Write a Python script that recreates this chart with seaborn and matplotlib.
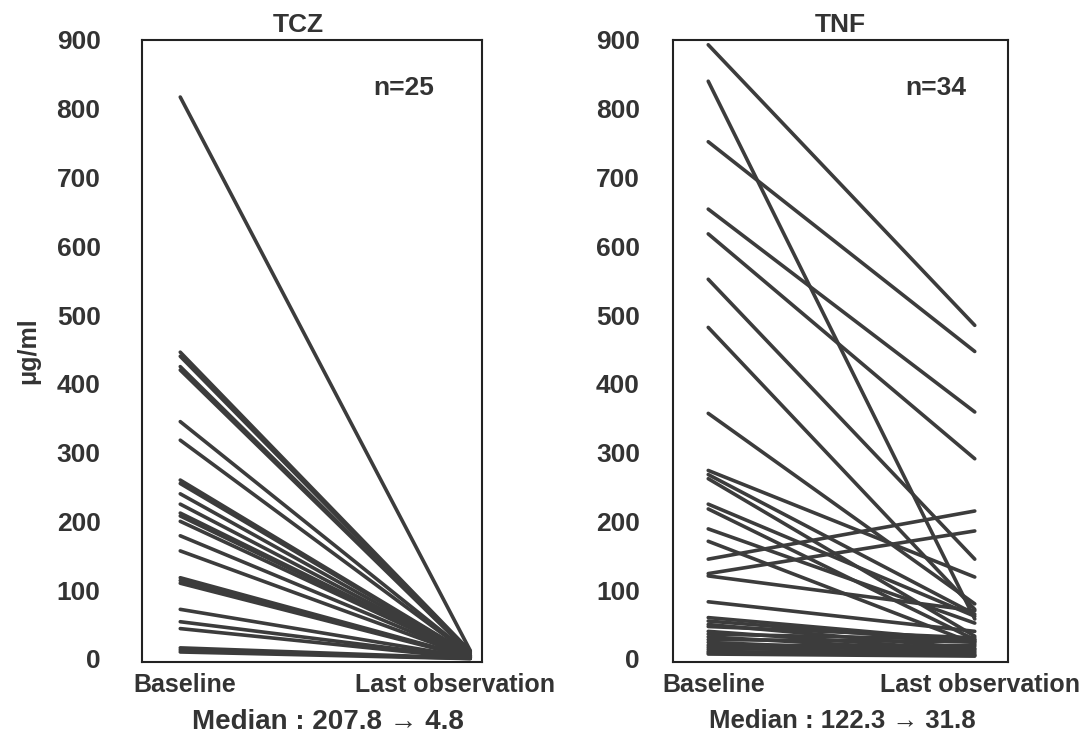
import pandas as pd
import matplotlib
matplotlib.use('Agg')
import matplotlib.pyplot as plt
import seaborn as sns

# TCZ group: baseline -> last observation (ug/ml)
tcz_baseline = [817, 446, 440, 425, 420, 345, 318, 260, 255, 240, 225, 212, 207.8,
                200, 179, 157, 118, 114, 110, 72, 54, 44, 16, 13, 10]
tcz_last = [12, 11, 10, 9, 8, 7, 6.5, 6, 5.5, 5.2, 5, 4.9, 4.8,
            4, 3.5, 3, 3, 2.5, 2, 2, 1.5, 1, 1, 0.5, 0.3]

# TNF group
tnf_baseline = [893, 840, 752, 654, 618, 552, 482, 357, 274, 268, 262, 225, 218,
                189, 171, 145, 124, 120.6, 83, 60, 55, 50, 47, 40, 36, 32, 28,
                24, 20, 17, 14, 11, 9, 7]
tnf_last = [485, 58, 447, 359, 291, 145, 72, 80, 119, 65, 33, 62, 28,
            52, 22, 215, 186, 70, 40, 26, 24, 15, 30.6, 12, 28, 10, 25,
            8, 18, 6, 20, 5, 14, 4]

time_labels = ['Baseline', 'Last observation']
y_ticks = [0, 100, 200, 300, 400, 500, 600, 700, 800, 900]


def to_long(base, last):
    rows = []
    for i, (b, l) in enumerate(zip(base, last)):
        rows.append({'id': i, 'time': 0, 'value': b})
        rows.append({'id': i, 'time': 1, 'value': l})
    return pd.DataFrame(rows)


tcz_df = to_long(tcz_baseline, tcz_last)
tnf_df = to_long(tnf_baseline, tnf_last)

sns.set_style('white')
plt.rcParams['font.family'] = ['Liberation Sans', 'DejaVu Sans']
plt.rcParams['font.weight'] = 'bold'

fig = plt.figure(figsize=(10.86, 7.40), dpi=100)
ax1 = fig.add_axes([0.131, 0.105, 0.313, 0.841])
ax2 = fig.add_axes([0.620, 0.105, 0.308, 0.841])

line_color = '#3c3c3c'
text_color = '#333333'

# ax, data, title, title x, n text, n x, median text, median x, median size,
# xlim, ytick pad, xtick positions
panels = [
    (ax1, tcz_df, 'TCZ', 0.46, 'n=25', 0.77, 'Median : 207.8 \u2192 4.8', 0.545, 20,
     (-0.131, 1.041), 30, [0.017, 0.948]),
    (ax2, tnf_df, 'TNF', 0.5, 'n=34', 0.855, 'Median : 122.3 \u2192 31.8', 0.505, 18.5,
     (-0.131, 1.124), 24, [0.022, 1.02]),
]

for ax, df, title, tx, ntext, nx, median, mx, msize, xlim, pad, xt in panels:
    sns.lineplot(data=df, x='time', y='value', units='id', estimator=None,
                 color=line_color, lw=2.6, ax=ax, legend=False)
    ax.set_xlim(*xlim)
    ax.set_ylim(-5, 900)
    ax.set_yticks(y_ticks)
    ax.set_yticklabels([str(t) for t in y_ticks], fontsize=19, fontweight='bold',
                       color=text_color)
    ax.set_xticks(xt)
    ax.set_xticklabels(time_labels, fontsize=18, fontweight='bold', color=text_color)
    ax.tick_params(axis='y', length=0, pad=pad)
    ax.tick_params(axis='x', length=0, pad=8)
    ax.set_xlabel(median, fontsize=msize, fontweight='bold', color=text_color, labelpad=5)
    ax.xaxis.set_label_coords(mx, -0.075)
    ax.set_ylabel('')
    ax.set_title(title, fontsize=19, fontweight='bold', color=text_color, pad=6, x=tx)
    ax.text(nx, 830, ntext, fontsize=19, fontweight='bold', color=text_color,
            ha='center', va='center')
    for s in ax.spines.values():
        s.set_visible(True)
        s.set_color('#222222')
        s.set_linewidth(1.5)

ax1.set_ylabel('\u03bcg/ml', fontsize=18, fontweight='bold', color=text_color, labelpad=12)

fig.savefig('out.png', dpi=100)
